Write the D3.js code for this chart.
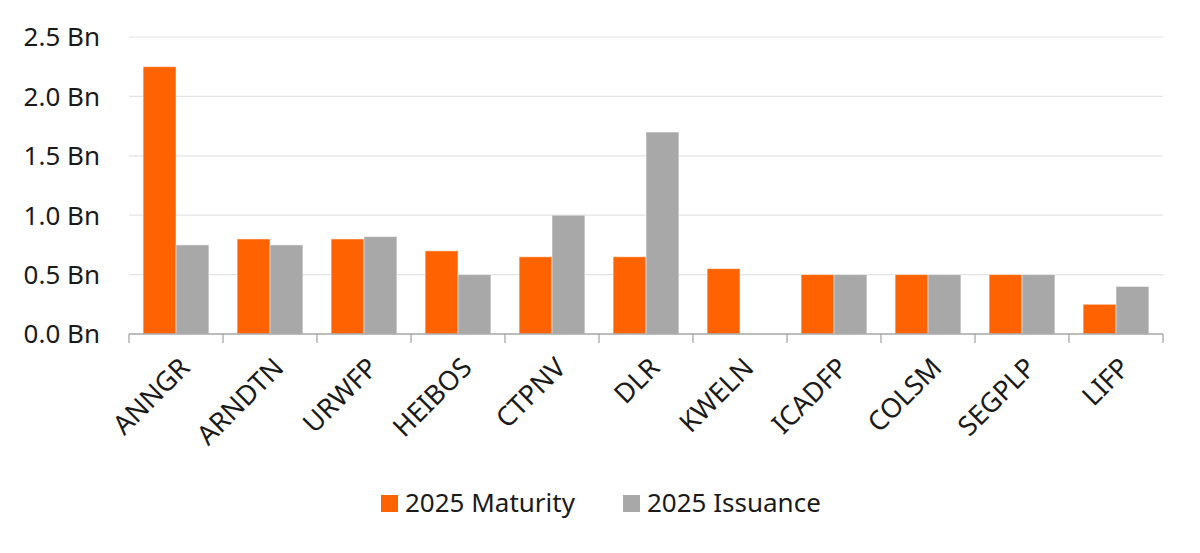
<!DOCTYPE html>
<html>
<head>
<meta charset="utf-8">
<script src="https://cdn.jsdelivr.net/npm/d3@7"></script>
<style>
  html, body { margin: 0; padding: 0; background: #fff; }
  svg { display: block; font-family: "Noto Sans", "Open Sans", sans-serif; }
</style>
</head>
<body>
<svg id="chart"></svg>
<script>
// issuers and the two series (Bn EUR)
const issuers = ["ANNGR", "ARNDTN", "URWFP", "HEIBOS", "CTPNV", "DLR", "KWELN", "ICADFP", "COLSM", "SEGPLP", "LIFP"];
const maturity = [2.25, 0.8, 0.8, 0.7, 0.65, 0.65, 0.55, 0.5, 0.5, 0.5, 0.25];
const issuance = [0.75, 0.75, 0.82, 0.5, 1.0, 1.7, 0, 0.5, 0.5, 0.5, 0.4];
const seriesNames = ["2025 Maturity", "2025 Issuance"];
const seriesColors = ["#ff6200", "#a8a8a8"];
const yTicks = [0, 0.5, 1.0, 1.5, 2.0, 2.5];

const width = 1200, height = 553;
const margin = { top: 37, right: 37, bottom: 219, left: 129 };

const svg = d3.select("#chart")
    .attr("width", width)
    .attr("height", height);

const x = d3.scaleBand()
    .domain(issuers)
    .range([margin.left, width - margin.right])
    .paddingInner(0.3)
    .paddingOuter(0.15);

// band for whole category (used for tick marks between groups)
const xCat = d3.scaleBand()
    .domain(issuers)
    .range([margin.left, width - margin.right]);

const xSub = d3.scaleBand()
    .domain(seriesNames)
    .range([0, x.bandwidth()]);

const y = d3.scaleLinear()
    .domain([0, 2.5])
    .range([height - margin.bottom, margin.top]);

// gridlines
svg.append("g")
  .selectAll("line")
  .data(yTicks.filter(d => d > 0))
  .enter().append("line")
    .attr("x1", margin.left)
    .attr("x2", width - margin.right)
    .attr("y1", d => y(d))
    .attr("y2", d => y(d))
    .attr("stroke", "#e4e4e4")
    .attr("stroke-width", 1.2);

// y labels
svg.append("g")
  .selectAll("text")
  .data(yTicks)
  .enter().append("text")
    .attr("x", 100)
    .attr("y", d => y(d))
    .attr("dy", "0.36em")
    .attr("text-anchor", "end")
    .attr("fill", "#1a1a1a")
    .style("font-size", "26px")
    .text(d => d.toFixed(1) + " Bn");

// bars
const rows = issuers.map((name, i) => ({ name, values: [maturity[i], issuance[i]] }));

const group = svg.append("g")
  .selectAll("g")
  .data(rows)
  .enter().append("g")
    .attr("transform", d => `translate(${x(d.name)},0)`);

group.selectAll("rect")
  .data(d => d.values.map((v, j) => ({ key: seriesNames[j], v, c: seriesColors[j] })))
  .enter().append("rect")
    .filter(d => d.v > 0)
    .attr("x", d => xSub(d.key))
    .attr("width", xSub.bandwidth())
    .attr("y", d => y(d.v))
    .attr("height", d => y(0) - y(d.v))
    .attr("fill", d => d.c)
    .attr("stroke", "#ffffff")
    .attr("stroke-opacity", 0.5)
    .attr("stroke-width", 1);

// x axis line + tick marks at category boundaries
const base = y(0);
svg.append("line")
    .attr("x1", margin.left)
    .attr("x2", width - margin.right)
    .attr("y1", base)
    .attr("y2", base)
    .attr("stroke", "#a6a6a6")
    .attr("stroke-width", 1.3);

const bounds = issuers.map(d => xCat(d)).concat([width - margin.right]);
svg.append("g")
  .selectAll("line")
  .data(bounds)
  .enter().append("line")
    .attr("x1", d => d)
    .attr("x2", d => d)
    .attr("y1", base)
    .attr("y2", base + 9)
    .attr("stroke", "#a6a6a6")
    .attr("stroke-width", 1.3);

// rotated category labels
svg.append("g")
  .selectAll("text")
  .data(issuers)
  .enter().append("text")
    .attr("transform", d => `translate(${xCat(d) + xCat.bandwidth() / 2 + 2},${base + 22}) rotate(-45)`)
    .attr("text-anchor", "end")
    .attr("dy", "0.7em")
    .attr("fill", "#1a1a1a")
    .style("font-size", "27px")
    .text(d => d);

// legend
const legend = svg.append("g").attr("transform", "translate(381,503)");
const legendX = [0, 242];
seriesNames.forEach((name, i) => {
  const g = legend.append("g").attr("transform", `translate(${legendX[i]},0)`);
  g.append("rect")
      .attr("x", 0)
      .attr("y", -8)
      .attr("width", 17)
      .attr("height", 17)
      .attr("fill", seriesColors[i]);
  g.append("text")
      .attr("x", 24)
      .attr("y", 0)
      .attr("dy", "0.36em")
      .attr("fill", "#1a1a1a")
      .style("font-size", "26px")
      .text(name);
});
</script>
</body>
</html>
